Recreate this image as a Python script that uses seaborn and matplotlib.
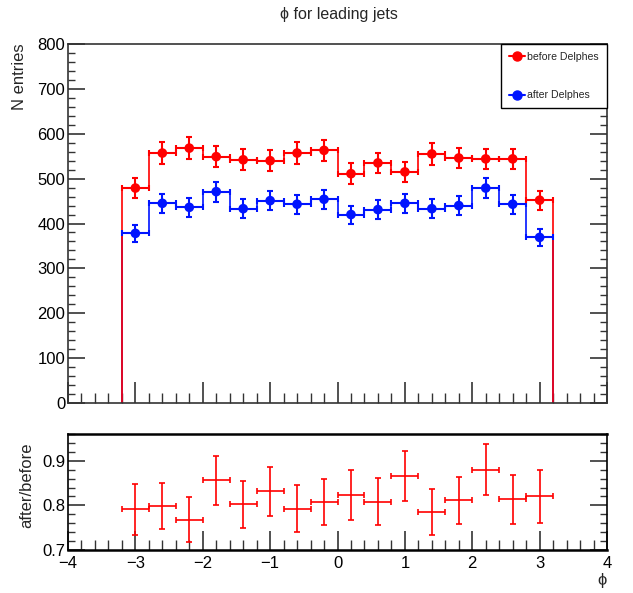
import numpy as np
import pandas as pd
import matplotlib
matplotlib.use("Agg")
import matplotlib.pyplot as plt
import seaborn as sns
from matplotlib.ticker import MultipleLocator
from matplotlib.lines import Line2D

# ---------------- data ----------------
phi_centers = [-3.0, -2.6, -2.2, -1.8, -1.4, -1.0, -0.6, -0.2,
               0.2, 0.6, 1.0, 1.4, 1.8, 2.2, 2.6, 3.0]
bin_half_width = 0.2
before = [479, 557, 568, 549, 542, 540, 557, 563, 511, 535, 515, 555, 546, 544, 544, 452]
before_err = [22, 24, 24, 23, 23, 23, 24, 24, 23, 23, 23, 24, 23, 23, 23, 21]
after = [378, 445, 436, 471, 433, 451, 443, 454, 420, 431, 445, 433, 440, 479, 443, 369]
after_err = [19, 21, 21, 22, 21, 21, 21, 21, 20, 21, 21, 21, 21, 22, 21, 19]
ratio = [0.791, 0.799, 0.768, 0.856, 0.802, 0.832, 0.793, 0.808,
         0.823, 0.808, 0.866, 0.785, 0.811, 0.880, 0.814, 0.820]
ratio_err = [0.057, 0.052, 0.050, 0.055, 0.053, 0.055, 0.052, 0.051,
             0.056, 0.053, 0.057, 0.052, 0.053, 0.057, 0.055, 0.059]
series_labels = ["before Delphes", "after Delphes"]
RED = "#ff0000"
BLUE = "#0014ff"

sns.set_style("ticks")
plt.rcParams["font.family"] = ["Liberation Sans", "DejaVu Sans"]
plt.rcParams["axes.linewidth"] = 1.2

W, H = 633, 593
fig = plt.figure(figsize=(W / 100, H / 100), dpi=100)

def box(l, t, r, b):
    return [l / W, 1 - b / H, (r - l) / W, (b - t) / H]

ax = fig.add_axes(box(68, 44, 607, 403))
ax2 = fig.add_axes(box(68, 434, 607, 550))

centers = np.array(phi_centers)
edges = np.append(centers - bin_half_width, centers[-1] + bin_half_width)


def step_frame(vals):
    v = np.asarray(vals, dtype=float)
    xs = np.concatenate([[edges[0]], edges[:-1], [edges[-1], edges[-1]]])
    ys = np.concatenate([[0.0], v, [v[-1], 0.0]])
    return pd.DataFrame({"x": xs, "y": ys})


for vals, errs, col in [(after, after_err, BLUE), (before, before_err, RED)]:
    df = step_frame(vals)
    sns.lineplot(data=df, x="x", y="y", ax=ax, color=col, lw=1.2,
                 drawstyle="steps-post", estimator=None, sort=False)
    ax.errorbar(centers, vals, yerr=errs, xerr=bin_half_width, fmt="none",
                ecolor=col, elinewidth=1.5, capsize=2.2, capthick=1.5, zorder=3)
    sns.scatterplot(x=centers, y=vals, ax=ax, color=col, s=48,
                    edgecolor="none", zorder=4)

ax.set_xlim(-4, 4)
ax.set_ylim(0, 800)
ax.set_xlabel("")
ax.set_ylabel("")
ax.xaxis.set_major_locator(MultipleLocator(1))
ax.xaxis.set_minor_locator(MultipleLocator(0.2))
ax.yaxis.set_major_locator(MultipleLocator(100))
ax.yaxis.set_minor_locator(MultipleLocator(20))
ax.tick_params(axis="both", which="both", direction="in", right=True, top=False,
               colors="#333333", labelcolor="black")
ax.tick_params(axis="x", which="major", length=15, width=1.2, labelbottom=False)
ax.tick_params(axis="x", which="minor", length=7, width=1.0)
ax.tick_params(axis="y", which="major", length=12, width=1.2, labelsize=12, pad=2)
ax.tick_params(axis="y", which="minor", length=5, width=1.0)
for s in ax.spines.values():
    s.set_visible(True)
    s.set_color("#333333")

handles = [Line2D([0], [0], color=RED, marker="o", markersize=6.5, lw=1.5),
           Line2D([0], [0], color=BLUE, marker="o", markersize=6.5, lw=1.5)]
leg = ax.legend(handles, series_labels, loc="upper right", bbox_to_anchor=(1.0, 1.0),
                borderaxespad=0, fancybox=False, edgecolor="black", framealpha=1,
                fontsize=7.6, labelspacing=2.7, handlelength=1.5, handletextpad=0.25,
                borderpad=0.75)
leg.get_frame().set_linewidth(1.0)

# ratio panel
ax2.errorbar(centers, ratio, yerr=ratio_err, xerr=bin_half_width, fmt="none",
             ecolor=RED, elinewidth=1.2, capsize=2.2, capthick=1.2)
ax2.set_xlim(-4, 4)
ax2.set_ylim(0.7, 0.96)
ax2.xaxis.set_major_locator(MultipleLocator(1))
ax2.xaxis.set_minor_locator(MultipleLocator(0.2))
ax2.yaxis.set_major_locator(MultipleLocator(0.1))
ax2.yaxis.set_minor_locator(MultipleLocator(0.02))
ax2.tick_params(axis="both", which="both", direction="in", right=True, top=False,
                colors="#333333", labelcolor="black")
ax2.tick_params(axis="x", which="major", length=14, width=1.2, labelsize=12, pad=4)
ax2.tick_params(axis="x", which="minor", length=7, width=1.0)
ax2.tick_params(axis="y", which="major", length=12, width=1.2, labelsize=12, pad=2)
ax2.tick_params(axis="y", which="minor", length=5, width=1.0)
for s in ax2.spines.values():
    s.set_visible(True)
    s.set_color("black")
ax2.spines["top"].set_linewidth(1.8)
ax2.spines["bottom"].set_linewidth(1.8)
ax2.set_xlabel("ϕ", fontsize=12, loc="right", labelpad=2)
ax2.set_ylabel("")

fig.text(339 / W, 1 - 15 / H, "ϕ for leading jets", ha="center", va="center", fontsize=11.5)
fig.text(19 / W, 1 - 43 / H, "N entries", rotation=90, ha="center", va="top", fontsize=12)
fig.text(27 / W, 1 - 485 / H, "after/before", rotation=90, ha="center", va="center", fontsize=12)

fig.savefig("out.png", dpi=100)
